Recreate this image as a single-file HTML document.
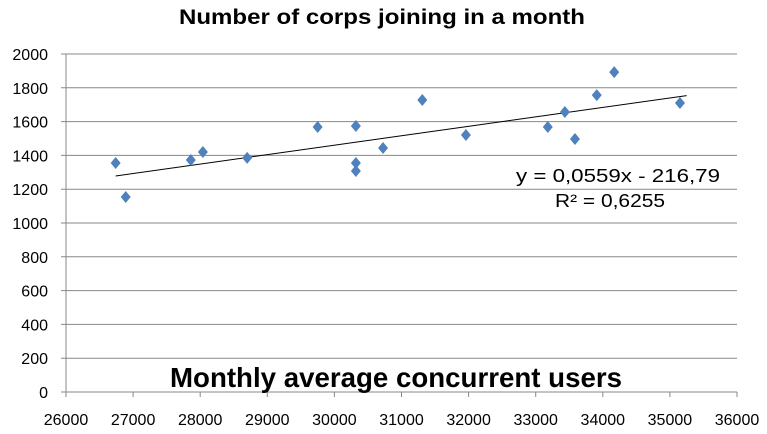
<!DOCTYPE html>
<html><head><meta charset="utf-8"><style>
body{margin:0;background:#fff;}
svg{display:block;font-family:"Liberation Sans",sans-serif;}
</style></head><body>
<svg id="chart" width="767" height="434">
<text x="382" y="24" text-anchor="middle" font-size="21" font-weight="bold" textLength="406" lengthAdjust="spacingAndGlyphs">Number of corps joining in a month</text>
<g id="grid"></g><g id="axes"></g><g id="marks"></g>
<text x="396" y="387" text-anchor="middle" font-size="28" font-weight="bold" textLength="452" lengthAdjust="spacingAndGlyphs">Monthly average concurrent users</text>
<text x="618" y="182" text-anchor="middle" font-size="18" textLength="204" lengthAdjust="spacingAndGlyphs">y = 0,0559x - 216,79</text>
<text x="610" y="207" text-anchor="middle" font-size="18" textLength="110" lengthAdjust="spacingAndGlyphs">R² = 0,6255</text>
</svg>
<script>
const xs=[26740,26890,27860,28040,28700,29750,30320,30320,30320,30725,31310,31960,33180,33435,33585,33910,34170,35150];
const ys=[1355,1154,1373,1420,1385,1568,1574,1355,1308,1444,1728,1521,1568,1657,1497,1757,1893,1710];
const xTicks=[26000,27000,28000,29000,30000,31000,32000,33000,34000,35000,36000];
const yTicks=[0,200,400,600,800,1000,1200,1400,1600,1800,2000];
const slope=0.0559, intercept=-216.79;
const NS="http://www.w3.org/2000/svg";
const X0=66,X1=737,Y0=392,Y1=54;
const sx=v=>X0+(v-26000)/10000*(X1-X0);
const sy=v=>Y0-v/2000*(Y0-Y1);
function mk(t,a,p){const e=document.createElementNS(NS,t);for(const k in a)e.setAttribute(k,a[k]);p.appendChild(e);return e;}
const grid=document.getElementById('grid'),axes=document.getElementById('axes'),marks=document.getElementById('marks');
yTicks.forEach(v=>{
 const l=mk('line',{x1:X0-5,x2:X1,y1:sy(v),y2:sy(v),stroke:'#888','stroke-width':1},grid);
 
 
 const t=mk('text',{x:48,y:sy(v)+6,'text-anchor':'end','font-size':16},axes);t.textContent=v;
 
 
});
mk('line',{x1:X0,x2:X0,y1:Y1,y2:Y0,stroke:'#888'},axes);
xTicks.forEach(v=>{
 const tk=mk('line',{x1:sx(v),x2:sx(v),y1:Y0,y2:Y0+5,stroke:'#888'},axes);
 
 
 const t=mk('text',{x:sx(v),y:425,'text-anchor':'middle','font-size':16},axes);t.textContent=v;
 
 
});
const xmin=Math.min(...xs);
const tl=mk('line',{x1:sx(xmin),y1:sy(slope*xmin+intercept),x2:sx(35250),y2:sy(slope*35250+intercept),stroke:'#000','stroke-width':1},marks);


xs.forEach((v,i)=>{
 const cx=sx(v),cy=sy(ys[i]);
 const p=mk('polygon',{points:`${cx},${cy-6} ${cx+5},${cy} ${cx},${cy+6} ${cx-5},${cy}`,fill:'#4f81bd'},marks);
 
 
});
</script>
</body></html>
